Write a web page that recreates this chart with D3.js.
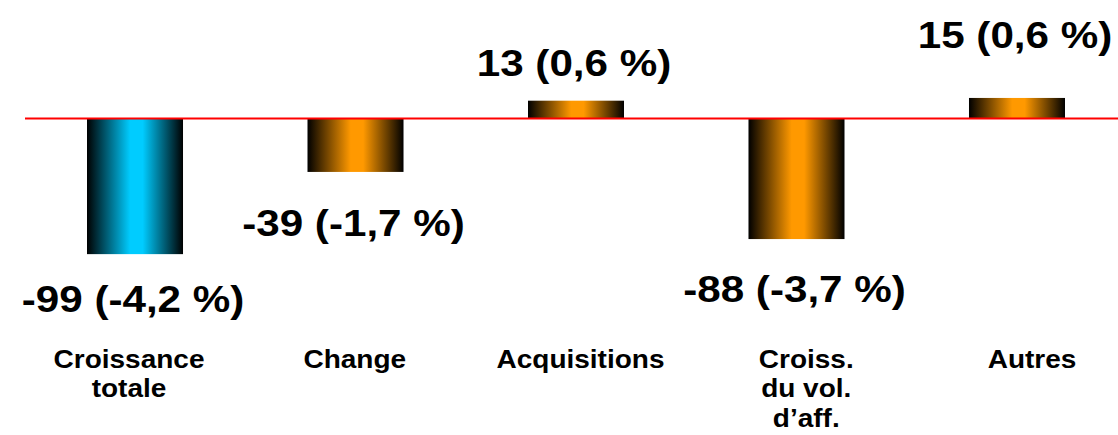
<!DOCTYPE html>
<html>
<head>
<meta charset="utf-8">
<script src="https://cdn.jsdelivr.net/npm/d3@7"></script>
<style>
  body { margin: 0; background: #fff; }
  text { font-family: "Liberation Sans", Arial, sans-serif; font-weight: bold; fill: #000; }
</style>
</head>
<body>
<div id="container"></div>
<script>
const categories = ["Croissance totale", "Change", "Acquisitions", "Croiss. du vol. d'aff.", "Autres"];
const categoryLines = [["Croissance", "totale"], ["Change"], ["Acquisitions"], ["Croiss.", "du vol.", "d\u2019aff."], ["Autres"]];
const values = [-99, -39, 13, -88, 15];
const percents = ["-4,2", "-1,7", "0,6", "-3,7", "0,6"];

// hand-placed label offsets from the bar end, as in the original slide
const labelDy = [58, 64, -25, 63, -50];

const width = 1118, height = 435;

const svg = d3.select("#container").append("svg")
  .attr("width", width)
  .attr("height", height);

const defs = svg.append("defs");
function addGradient(id, color) {
  const g = defs.append("linearGradient").attr("id", id)
    .attr("x1", "0%").attr("x2", "100%").attr("y1", "0%").attr("y2", "0%");
  g.append("stop").attr("offset", "0%").attr("stop-color", "#000");
  g.append("stop").attr("offset", "45%").attr("stop-color", color);
  g.append("stop").attr("offset", "58%").attr("stop-color", color);
  g.append("stop").attr("offset", "100%").attr("stop-color", "#000");
}
addGradient("gradCyan", "#00ccff");
addGradient("gradOrange", "#ff9900");

const x = d3.scaleBand()
  .domain(categories)
  .range([0, 1152])
  .paddingInner(0.5646)
  .paddingOuter(0.3946);

const y = d3.scaleLinear()
  .domain([-100, 20])
  .range([118.5 + 137, 118.5 - 27.4]);

const labelX = d3.scalePoint()
  .domain(categories)
  .range([129, 1032]);

// bars
svg.selectAll("rect.bar")
  .data(values)
  .enter()
  .append("rect")
  .attr("class", "bar")
  .attr("x", (d, i) => x(categories[i]))
  .attr("y", d => y(Math.max(0, d)))
  .attr("width", x.bandwidth())
  .attr("height", d => Math.abs(y(d) - y(0)))
  .attr("fill", (d, i) => i === 0 ? "url(#gradCyan)" : "url(#gradOrange)");

// zero line
svg.append("line")
  .attr("x1", 25).attr("x2", width)
  .attr("y1", y(0)).attr("y2", y(0))
  .attr("stroke", "#ff0000")
  .attr("stroke-width", 2);

// value labels
svg.selectAll("text.value")
  .data(values)
  .enter()
  .append("text")
  .attr("class", "value")
  .attr("text-anchor", "middle")
  .attr("font-size", 37)
  .attr("transform", (d, i) => {
    const cx = x(categories[i]) + x.bandwidth() / 2 - 2;
    const cy = y(d) + labelDy[i];
    return `translate(${cx},${cy}) scale(1.14,1)`;
  })
  .text((d, i) => `${d} (${percents[i]} %)`);

// category labels
const cat = svg.selectAll("text.cat")
  .data(categories)
  .enter()
  .append("text")
  .attr("class", "cat")
  .attr("text-anchor", "middle")
  .attr("font-size", 25)
  .attr("transform", d => `translate(${labelX(d)},368) scale(1.12,1)`);

cat.selectAll("tspan")
  .data((d, i) => categoryLines[i])
  .enter()
  .append("tspan")
  .attr("x", 0)
  .attr("y", (d, j) => j * 29.5)
  .text(d => d);
</script>
</body>
</html>
